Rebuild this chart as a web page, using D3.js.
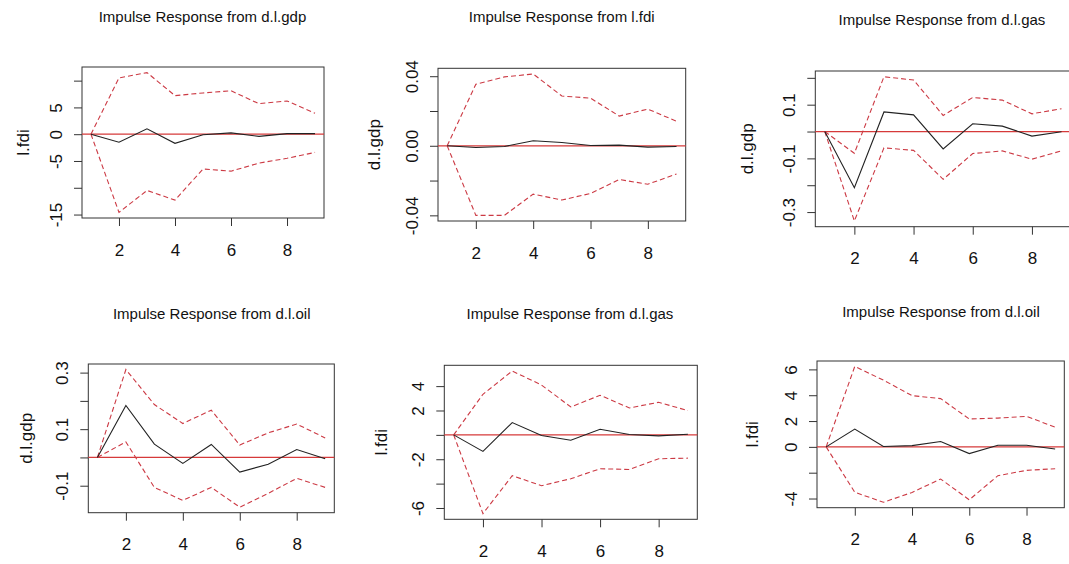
<!DOCTYPE html>
<html>
<head>
<meta charset="utf-8">
<script src="https://cdn.jsdelivr.net/npm/d3@7"></script>
<style>
	body { margin: 0; background: #fff; }
	svg { display: block; font-family: "Liberation Sans", Arial, sans-serif; }
</style>
</head>
<body>
<div id="chart"></div>
<script>
// horizon (x) and its tick marks
const horizon = [ 1, 2, 3, 4, 5, 6, 7, 8, 9 ];
const xTicks = [ 2, 4, 6, 8 ];

const titles = [
	'Impulse Response from d.l.gdp',
	'Impulse Response from l.fdi',
	'Impulse Response from d.l.gas',
	'Impulse Response from d.l.oil',
	'Impulse Response from d.l.gas',
	'Impulse Response from d.l.oil'
];
const responses = [ 'l.fdi', 'd.l.gdp', 'd.l.gdp', 'd.l.gdp', 'l.fdi', 'l.fdi' ];

// d.l.gdp -> l.fdi
const irf1 = [ 0, -1.5, 1.0, -1.7, -0.1, 0.25, -0.4, 0.1, 0.1 ];
const upper1 = [ 0, 10.5, 11.5, 7.2, 7.7, 8.1, 5.7, 6.2, 3.9 ];
const lower1 = [ 0, -14.6, -10.5, -12.3, -6.5, -6.9, -5.4, -4.5, -3.4 ];
const yTicks1 = [ 10, 5, 0, -5, -10, -15 ];
const yLabels1 = [ '', '5', '0', '-5', '', '-15' ];

// l.fdi -> d.l.gdp
const irf2 = [ 0, -0.001, -0.0004, 0.0029, 0.0019, 0.0002, 0.0004, -0.0008, -0.0004 ];
const upper2 = [ 0, 0.0354, 0.0396, 0.0413, 0.0286, 0.0274, 0.0171, 0.0211, 0.0141 ];
const lower2 = [ 0, -0.040, -0.040, -0.0278, -0.0312, -0.0274, -0.0194, -0.0221, -0.0162 ];
const yTicks2 = [ 0.04, 0.02, 0, -0.02, -0.04 ];
const yLabels2 = [ '0.04', '', '0.00', '', '-0.04' ];

// d.l.gas -> d.l.gdp
const irf3 = [ 0, -0.209, 0.073, 0.062, -0.065, 0.029, 0.020, -0.017, -0.001 ];
const upper3 = [ 0, -0.081, 0.204, 0.192, 0.060, 0.127, 0.117, 0.066, 0.085 ];
const lower3 = [ 0, -0.333, -0.061, -0.070, -0.178, -0.082, -0.072, -0.103, -0.072 ];
const yTicks3 = [ 0.2, 0.1, 0, -0.1, -0.2, -0.3 ];
const yLabels3 = [ '', '0.1', '', '-0.1', '', '-0.3' ];

// d.l.oil -> d.l.gdp
const irf4 = [ 0, 0.184, 0.047, -0.021, 0.046, -0.052, -0.024, 0.028, -0.005 ];
const upper4 = [ 0, 0.311, 0.187, 0.120, 0.167, 0.044, 0.087, 0.118, 0.069 ];
const lower4 = [ 0, 0.055, -0.106, -0.152, -0.106, -0.176, -0.127, -0.074, -0.106 ];
const yTicks4 = [ 0.3, 0.2, 0.1, 0, -0.1 ];
const yLabels4 = [ '0.3', '', '0.1', '', '-0.1' ];

// d.l.gas -> l.fdi
const irf5 = [ 0, -1.36, 1.01, -0.05, -0.44, 0.46, 0.03, -0.08, 0.05 ];
const upper5 = [ 0, 3.33, 5.24, 4.09, 2.29, 3.25, 2.21, 2.67, 1.99 ];
const lower5 = [ 0, -6.46, -3.35, -4.17, -3.6, -2.78, -2.84, -1.96, -1.91 ];
const yTicks5 = [ 4, 2, 0, -2, -4, -6 ];
const yLabels5 = [ '4', '2', '', '-2', '', '-6' ];

// d.l.oil -> l.fdi
const irf6 = [ 0, 1.38, 0.03, 0.1, 0.42, -0.52, 0.13, 0.13, -0.16 ];
const upper6 = [ 0, 6.23, 5.17, 3.97, 3.74, 2.16, 2.23, 2.36, 1.53 ];
const lower6 = [ 0, -3.51, -4.29, -3.53, -2.49, -4.10, -2.23, -1.82, -1.69 ];
const yTicks6 = [ 6, 4, 2, 0, -2, -4 ];
const yLabels6 = [ '6', '4', '2', '0', '', '-4' ];

const panels = [
	{ irf: irf1, upper: upper1, lower: lower1, ticks: yTicks1, labels: yLabels1 },
	{ irf: irf2, upper: upper2, lower: lower2, ticks: yTicks2, labels: yLabels2 },
	{ irf: irf3, upper: upper3, lower: lower3, ticks: yTicks3, labels: yLabels3 },
	{ irf: irf4, upper: upper4, lower: lower4, ticks: yTicks4, labels: yLabels4 },
	{ irf: irf5, upper: upper5, lower: lower5, ticks: yTicks5, labels: yLabels5 },
	{ irf: irf6, upper: upper6, lower: lower6, ticks: yTicks6, labels: yLabels6 }
];

// plot boxes and text anchors, one per panel (page pixels)
const layout = [
	{ box: [ 82, 324, 67, 218 ], title: [ 202.5, 22 ], ylabX: 29 },
	{ box: [ 438, 685.7, 68.3, 221 ], title: [ 561.7, 22 ], ylabX: 380 },
	{ box: [ 815.3, 1071, 71, 226.7 ], title: [ 942, 25 ], ylabX: 753 },
	{ box: [ 88.3, 334.3, 364, 512.7 ], title: [ 211.7, 319 ], ylabX: 32 },
	{ box: [ 444.3, 697.3, 365.3, 519.3 ], title: [ 570, 319 ], ylabX: 387 },
	{ box: [ 817, 1064.3, 361, 507.7 ], title: [ 941, 317 ], ylabX: 758 }
];

const width = 1069, height = 564;
const svg = d3.select( '#chart' ).append( 'svg' )
	.attr( 'width', width )
	.attr( 'height', height );

// R style: data range stretched by 4% each side
function rExtent( values ){
	let [ lo, hi ] = d3.extent( values ),
		pad = ( hi - lo ) * 0.04;
	return [ lo - pad, hi + pad ];
}

panels.forEach( ( p, i ) => {
	let [ x0, x1, y0, y1 ] = layout[ i ].box,
		g = svg.append( 'g' ),
		x = d3.scaleLinear().domain( rExtent( horizon ) ).range( [ x0, x1 ] ),
		y = d3.scaleLinear().domain( rExtent( p.irf.concat( p.upper, p.lower ) ) ).range( [ y1, y0 ] ),
		line = d3.line().x( ( d, j ) => x( horizon[ j ] ) ).y( d => y( d ) );

	// title
	g.append( 'text' )
		.attr( 'x', layout[ i ].title[ 0 ] )
		.attr( 'y', layout[ i ].title[ 1 ] )
		.attr( 'text-anchor', 'middle' )
		.attr( 'font-size', '15px' )
		.attr( 'fill', '#111' )
		.text( titles[ i ] );

	// response label, centred on the box
	g.append( 'text' )
		.attr( 'transform', `translate(${ layout[ i ].ylabX },${ ( y0 + y1 ) / 2 }) rotate(-90)` )
		.attr( 'text-anchor', 'middle' )
		.attr( 'font-size', '17px' )
		.attr( 'fill', '#111' )
		.text( responses[ i ] );

	// x axis
	let xa = g.append( 'g' )
		.attr( 'transform', `translate(0,${ y1 })` )
		.call( d3.axisBottom( x ).tickValues( xTicks ).tickSize( 8 ).tickFormat( d3.format( 'd' ) ) )
		.attr( 'font-family', null )
		.attr( 'font-size', null );
	xa.select( '.domain' ).remove();
	xa.selectAll( 'line' ).attr( 'stroke', '#333' );
	xa.selectAll( 'text' )
		.attr( 'font-size', '17px' )
		.attr( 'fill', '#111' )
		.attr( 'dy', null )
		.attr( 'y', 37.5 );

	// y axis, labels rotated like R's las = 0
	let ya = g.append( 'g' )
		.attr( 'transform', `translate(${ x0 },0)` )
		.call( d3.axisLeft( y ).tickValues( p.ticks ).tickSize( 8 ).tickFormat( ( d, j ) => p.labels[ j ] ) )
		.attr( 'font-family', null )
		.attr( 'font-size', null );
	ya.select( '.domain' ).remove();
	ya.selectAll( 'line' ).attr( 'stroke', '#333' );
	ya.selectAll( 'text' )
		.attr( 'font-size', '17px' )
		.attr( 'fill', '#111' )
		.attr( 'text-anchor', 'middle' )
		.attr( 'dy', null )
		.attr( 'x', 0 )
		.attr( 'y', -20.5 )
		.attr( 'transform', 'rotate(-90)' );

	// box
	g.append( 'rect' )
		.attr( 'x', x0 )
		.attr( 'y', y0 )
		.attr( 'width', x1 - x0 )
		.attr( 'height', y1 - y0 )
		.attr( 'fill', 'none' )
		.attr( 'stroke', '#333' )
		.attr( 'stroke-width', 1 );

	// zero line
	g.append( 'line' )
		.attr( 'x1', x0 )
		.attr( 'x2', x1 )
		.attr( 'y1', y( 0 ) )
		.attr( 'y2', y( 0 ) )
		.attr( 'stroke', '#d63a3a' )
		.attr( 'stroke-width', 1.2 );

	// bands
	[ p.upper, p.lower ].forEach( band => {
		g.append( 'path' )
			.attr( 'd', line( band ) )
			.attr( 'fill', 'none' )
			.attr( 'stroke', '#cc3a44' )
			.attr( 'stroke-width', 1.1 )
			.attr( 'stroke-dasharray', '5,3' );
	} );

	// impulse response
	g.append( 'path' )
		.attr( 'd', line( p.irf ) )
		.attr( 'fill', 'none' )
		.attr( 'stroke', '#222' )
		.attr( 'stroke-width', 1.1 );
} );
</script>
</body>
</html>
